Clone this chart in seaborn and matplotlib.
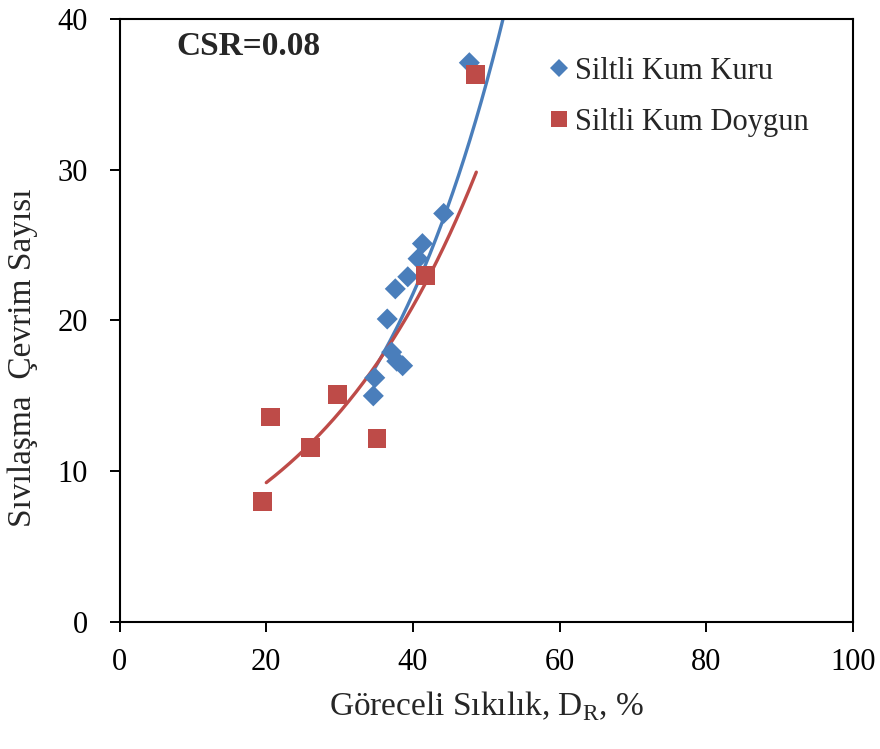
import numpy as np
import pandas as pd
import matplotlib
matplotlib.use("Agg")
import matplotlib.pyplot as plt
from matplotlib.lines import Line2D
import seaborn as sns

# Data
kuru_x = [34.6, 34.8, 37.1, 37.8, 38.6, 36.5, 37.6, 39.3, 40.7, 41.3, 44.2, 47.7]
kuru_y = [15.0, 16.2, 17.9, 17.3, 17.0, 20.1, 22.1, 22.9, 24.1, 25.1, 27.1, 37.1]
doygun_x = [19.5, 20.6, 26.0, 29.7, 35.1, 41.7, 48.6]
doygun_y = [8.0, 13.6, 11.6, 15.1, 12.2, 23.0, 36.3]

# exponential trendlines y = a*exp(b*x)
kuru_trend = [3.005, 0.0495]
kuru_trend_range = [34.2, 53.5]
doygun_trend = [4.08, 0.0409]
doygun_trend_range = [20.0, 48.65]

labels = ["Siltli Kum Kuru", "Siltli Kum Doygun"]
x_ticks = [0, 20, 40, 60, 80, 100]
y_ticks = [0, 10, 20, 30, 40]
csr_text = "CSR=0.08"

blue = "#4A7EBB"
red = "#BE4B48"

sns.set_theme(style="white")
plt.rcParams["font.family"] = ["Liberation Serif", "DejaVu Serif"]
plt.rcParams["mathtext.fontset"] = "custom"
plt.rcParams["mathtext.rm"] = "Liberation Serif"

fig = plt.figure(figsize=(8.8, 7.49), dpi=100)
ax = fig.add_axes([0.136, 0.1696, 0.833, 0.805])

kuru_df = pd.DataFrame({"x": kuru_x, "y": kuru_y})
doygun_df = pd.DataFrame({"x": doygun_x, "y": doygun_y})

xs1 = np.linspace(kuru_trend_range[0], kuru_trend_range[1], 200)
sns.lineplot(x=xs1, y=kuru_trend[0] * np.exp(kuru_trend[1] * xs1), ax=ax,
             color=blue, lw=2.4, legend=False)
xs2 = np.linspace(doygun_trend_range[0], doygun_trend_range[1], 200)
sns.lineplot(x=xs2, y=doygun_trend[0] * np.exp(doygun_trend[1] * xs2), ax=ax,
             color=red, lw=2.4, legend=False)

sns.scatterplot(data=kuru_df, x="x", y="y", marker="D", color=blue, s=115,
                edgecolor="none", ax=ax, zorder=3)
sns.scatterplot(data=doygun_df, x="x", y="y", marker="s", color=red, s=185,
                edgecolor="none", ax=ax, zorder=3)

ax.set_xlim(0, 100)
ax.set_ylim(0, 40)
ax.set_xticks(x_ticks)
ax.set_yticks(y_ticks)
ax.tick_params(axis="both", labelsize=22, direction="out", length=7, width=1.4,
               bottom=True, left=True, colors="black")
ax.tick_params(axis="x", pad=12)
ax.tick_params(axis="y", pad=16)
for sp in ax.spines.values():
    sp.set_color("black")
    sp.set_linewidth(1.5)

ax.set_xlabel("Göreceli Sıkılık, D$_\\mathregular{R}$, %", fontsize=24)
ax.set_ylabel("Sıvılaşma  Çevrim Sayısı", fontsize=24)
ax.xaxis.set_label_coords(0.5, -0.112)
ax.yaxis.set_label_coords(-0.112, 0.438)

ax.text(0.078, 0.955, csr_text, transform=ax.transAxes, fontsize=24,
        fontweight="bold", va="center", ha="left")

handles = [
    Line2D([], [], marker="D", color=blue, linestyle="none", markersize=8.7,
           markeredgewidth=0),
    Line2D([], [], marker="s", color=red, linestyle="none", markersize=11.5,
           markeredgewidth=0),
]
leg = fig.legend(handles, labels, loc="center left",
                 bbox_to_anchor=(547 / 880, 1 - 97 / 749), frameon=False,
                 fontsize=22, handlelength=0.8, handletextpad=0.1,
                 labelspacing=0.72, borderpad=0, borderaxespad=0)

fig.savefig("out.png", dpi=100, facecolor="white")
